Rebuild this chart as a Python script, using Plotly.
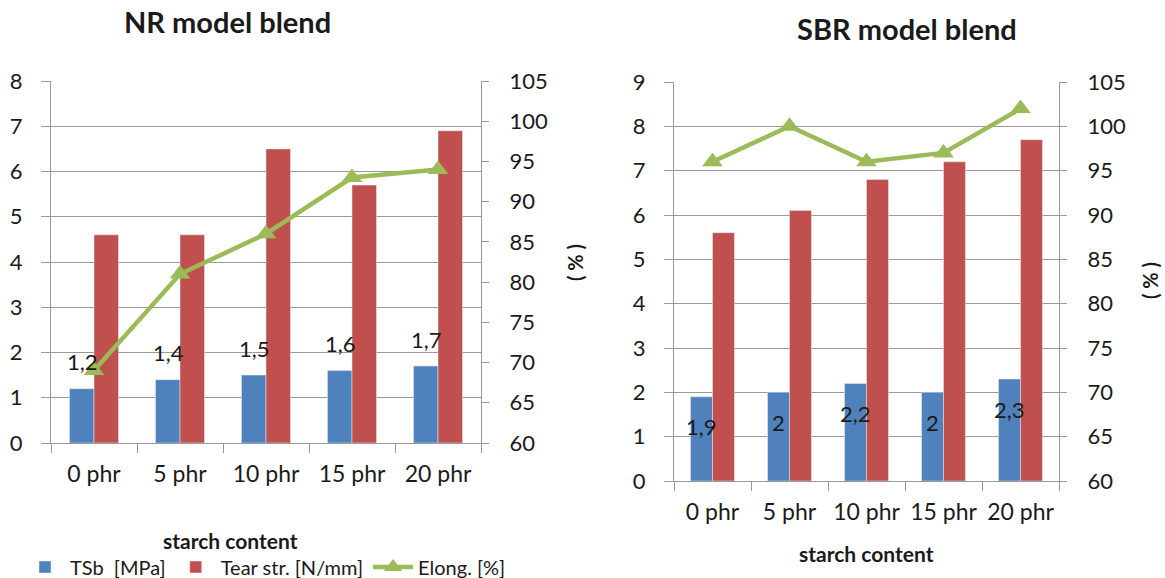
import plotly.graph_objects as go

categories = ["0 phr", "5 phr", "10 phr", "15 phr", "20 phr"]

# NR model blend
nr_tsb = [1.2, 1.4, 1.5, 1.6, 1.7]
nr_tear = [4.6, 4.6, 6.5, 5.7, 6.9]
nr_elong = [69, 81, 86, 93, 94]

# SBR model blend
sbr_tsb = [1.9, 2.0, 2.2, 2.0, 2.3]
sbr_tear = [5.6, 6.1, 6.8, 7.2, 7.7]
sbr_elong = [96, 100, 96, 97, 102]

left_ticks = [0, 1, 2, 3, 4, 5, 6, 7, 8]
right_ticks_sbr = [0, 1, 2, 3, 4, 5, 6, 7, 8, 9]
pct_ticks = [60, 65, 70, 75, 80, 85, 90, 95, 100, 105]

BLUE = "#4f81bd"
RED = "#c0504d"
GREEN = "#9bbb59"
GRID = "#999999"
TXT = "#1a1a1a"
FONT = "Lato"

W, H = 1165, 578


def px_x(p):
    return p / W


def px_y(p):
    return 1 - p / H


def fmt(v):
    s = f"{v:.1f}"
    if s.endswith(".0"):
        s = s[:-2]
    return s.replace(".", ",")


fig = go.Figure()

# Left chart traces
fig.add_trace(go.Bar(x=categories, y=nr_tsb, name="TSb  [MPa]", marker_color=BLUE,
                     xaxis="x", yaxis="y", offsetgroup="a", legendgroup="tsb"))
fig.add_trace(go.Bar(x=categories, y=nr_tear, name="Tear str. [N/mm]", marker_color=RED,
                     xaxis="x", yaxis="y", offsetgroup="b", legendgroup="tear"))
fig.add_trace(go.Scatter(x=categories, y=nr_elong, name="Elong. [%]", mode="lines+markers",
                         line=dict(color=GREEN, width=4.5),
                         marker=dict(symbol="triangle-up", size=18, color=GREEN),
                         xaxis="x", yaxis="y2", cliponaxis=False, legendgroup="el"))

# Right chart traces
fig.add_trace(go.Bar(x=categories, y=sbr_tsb, name="TSb  [MPa]", marker_color=BLUE,
                     xaxis="x2", yaxis="y3", offsetgroup="a", showlegend=False, legendgroup="tsb"))
fig.add_trace(go.Bar(x=categories, y=sbr_tear, name="Tear str. [N/mm]", marker_color=RED,
                     xaxis="x2", yaxis="y3", offsetgroup="b", showlegend=False, legendgroup="tear"))
fig.add_trace(go.Scatter(x=categories, y=sbr_elong, name="Elong. [%]", mode="lines+markers",
                         line=dict(color=GREEN, width=4.5),
                         marker=dict(symbol="triangle-up", size=18, color=GREEN),
                         xaxis="x2", yaxis="y4", cliponaxis=False, showlegend=False, legendgroup="el"))

tickfont = dict(family=FONT, size=22, color=TXT)
catfont = dict(family=FONT, size=23, color=TXT)

L_dom_x = [px_x(51), px_x(481)]
L_dom_y = [px_y(443), px_y(81)]
R_dom_x = [px_x(674), px_x(1059)]
R_dom_y = [px_y(481), px_y(82)]

xcommon = dict(type="category", showgrid=False, showline=True, linecolor=GRID, linewidth=1.3,
               ticks="outside", tickson="boundaries", ticklen=9, tickcolor=GRID, tickwidth=1.3,
               tickfont=catfont, ticklabelstandoff=10, zeroline=False, automargin=False)
ycommon = dict(showgrid=True, gridcolor=GRID, gridwidth=1.3, showline=True, linecolor=GRID,
               linewidth=1.3, ticks="outside", ticklen=9, tickcolor=GRID, tickwidth=1.3,
               tickfont=tickfont, zeroline=False, ticklabelstandoff=14, automargin=False)
y2common = dict(showgrid=False, showline=True, linecolor=GRID, linewidth=1.3, ticks="outside",
                ticklen=7, tickcolor=GRID, tickwidth=1.3, tickfont=tickfont, zeroline=False,
                side="right", range=[60, 105], tickvals=pct_ticks, ticklabelstandoff=16,
                automargin=False)

fig.update_layout(
    width=W, height=H,
    margin=dict(l=0, r=0, t=0, b=0, pad=0, autoexpand=False),
    paper_bgcolor="white", plot_bgcolor="white",
    barmode="group", bargap=0.43, bargroupgap=0,
    font=dict(family=FONT, color=TXT),
    xaxis=dict(domain=L_dom_x, anchor="y", **xcommon),
    yaxis=dict(domain=L_dom_y, anchor="x", range=[0, 8], tickvals=left_ticks, **ycommon),
    yaxis2=dict(anchor="x", overlaying="y", **y2common),
    xaxis2=dict(domain=R_dom_x, anchor="y3", **xcommon),
    yaxis3=dict(domain=R_dom_y, anchor="x2", range=[0, 9], tickvals=right_ticks_sbr, **ycommon),
    yaxis4=dict(anchor="x2", overlaying="y3", **y2common),
    legend=dict(orientation="h", x=px_x(20), y=px_y(567), xanchor="left", yanchor="middle",
                font=dict(family=FONT, size=20, color=TXT), itemwidth=40,
                bgcolor="rgba(0,0,0,0)", traceorder="normal"),
    showlegend=True,
)


def label(text, x, y, size, angle=0):
    return dict(text=text, x=px_x(x), y=px_y(y), xref="paper", yref="paper",
                xanchor="center", yanchor="middle", showarrow=False, textangle=angle,
                font=dict(family=FONT, size=size, color=TXT))


ann = [
    label("<b>NR model blend</b>", 227, 21, 29),
    label("<b>SBR model blend</b>", 907, 29, 29),
    label("<b>starch content</b>", 230, 540, 21),
    label("<b>starch content</b>", 866, 553, 21),
    label("<b>( % )</b>", 575, 263, 20, -90),
    label("<b>( % )</b>", 1150, 281, 20, -90),
]

# Data labels on TSb bars
for c, v in zip(categories, nr_tsb):
    ann.append(dict(text=fmt(v), x=c, y=v, xref="x", yref="y", showarrow=False,
                    xanchor="center", yanchor="middle",
                    xshift=-12, yshift=27, font=dict(family=FONT, size=22, color=TXT)))
for c, v in zip(categories, sbr_tsb):
    ann.append(dict(text=fmt(v), x=c, y=v, xref="x2", yref="y3", showarrow=False,
                    xanchor="center", yanchor="middle",
                    xshift=-11, yshift=-30, font=dict(family=FONT, size=22, color=TXT)))

fig.update_layout(annotations=ann)

fig.write_html("out.html", config={"displayModeBar": False},
               post_script="document.body.style.margin='0';")
